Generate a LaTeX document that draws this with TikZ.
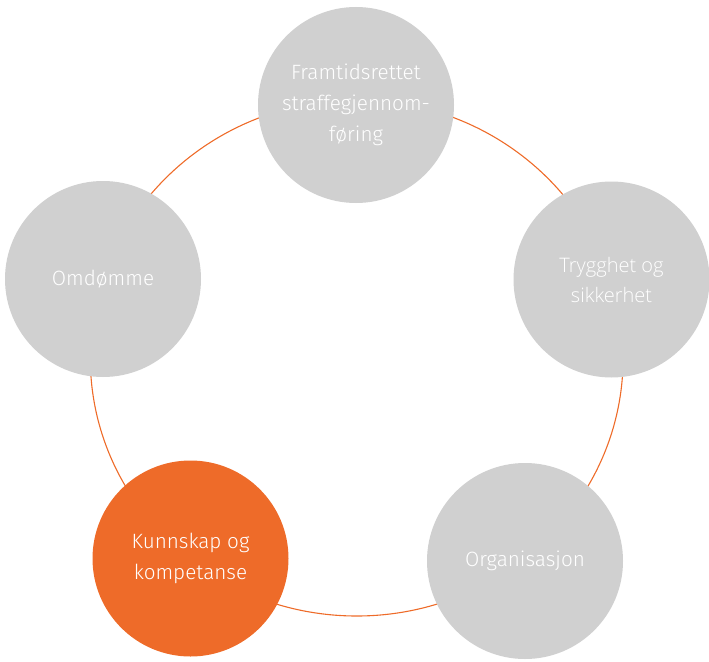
\documentclass[tikz,border=0pt]{standalone}
\usepackage{fontspec}
\setmainfont{Fira Sans Light}
\newfontfamily\opensans{Open Sans Light}
\definecolor{bubblegray}{HTML}{D0D0D0}
\definecolor{accent}{HTML}{EE6B29}
\begin{document}
\begin{tikzpicture}[x=1pt,y=-1pt,
  bubble/.style={circle, minimum size=196pt, inner sep=0pt, fill=bubblegray,
    text=white, align=center, font=\fontsize{20.7}{31}\selectfont},
  hot/.style={bubble, fill=accent},
  ring/.style={draw=accent, line width=1.1pt}]
\useasboundingbox (0,0) rectangle (709,661);
\draw[ring] (356.7,358) ellipse [x radius=266.4, y radius=258];
\node[bubble] (top) at (356,105) {Framtidsrettet\\straffegjennom-\\føring};
\node[bubble, font=\opensans\fontsize{20}{30}\selectfont] (right) at (611.5,279.5) {Trygghet og\\sikkerhet};
\node[bubble] (bright) at (525,561) {Organisasjon};
\node[hot] (bleft) at (190.5,558.5) {Kunnskap og\\kompetanse};
\node[bubble] (left) at (103,279) {Omdømme};
\end{tikzpicture}
\end{document}
